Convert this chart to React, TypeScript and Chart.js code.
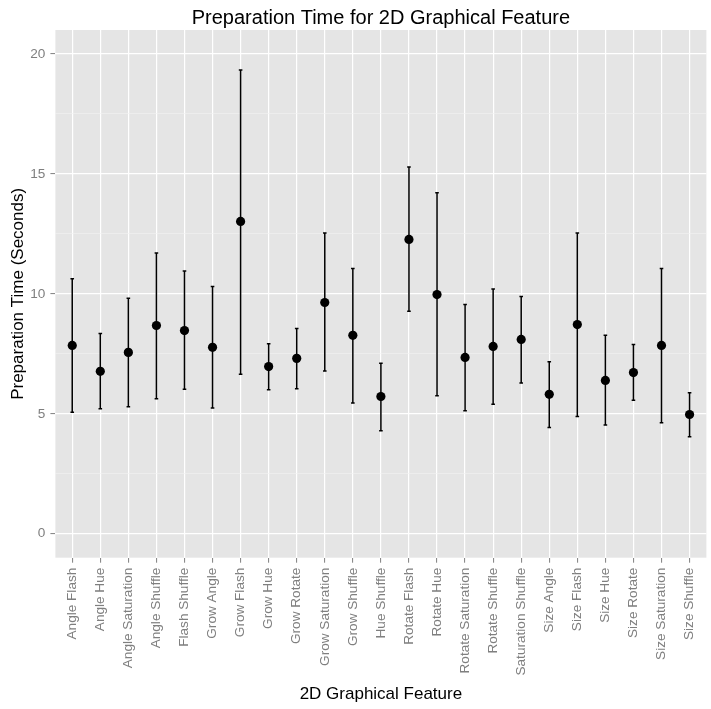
import React, { useEffect, useRef } from "react";
import { Chart, registerables } from "chart.js";

Chart.register(...registerables);

const categories = [
  "Angle Flash", "Angle Hue", "Angle Saturation", "Angle Shuffle", "Flash Shuffle",
  "Grow Angle", "Grow Flash", "Grow Hue", "Grow Rotate", "Grow Saturation",
  "Grow Shuffle", "Hue Shuffle", "Rotate Flash", "Rotate Hue", "Rotate Saturation",
  "Rotate Shuffle", "Saturation Shuffle", "Size Angle", "Size Flash", "Size Hue",
  "Size Rotate", "Size Saturation", "Size Shuffle",
];

const meanTime = [
  7.85, 6.77, 7.56, 8.68, 8.47, 7.77, 13.02, 6.97, 7.31, 9.64, 8.27, 5.72,
  12.27, 9.97, 7.35, 7.81, 8.10, 5.81, 8.72, 6.39, 6.72, 7.85, 4.97,
];

const lowerTime = [
  5.06, 5.21, 5.29, 5.63, 6.02, 5.24, 6.65, 6.00, 6.04, 6.78, 5.45, 4.29,
  9.27, 5.75, 5.13, 5.40, 6.28, 4.43, 4.89, 4.53, 5.56, 4.63, 4.04,
];

const upperTime = [
  10.63, 8.35, 9.82, 11.70, 10.95, 10.31, 19.33, 7.92, 8.56, 12.54, 11.06, 7.11,
  15.29, 14.21, 9.56, 10.20, 9.89, 7.17, 12.54, 8.27, 7.89, 11.06, 5.88,
];

const yTicks = [0, 2.5, 5, 7.5, 10, 12.5, 15, 17.5, 20];

const FONT = "'Liberation Sans', Arial, Helvetica, sans-serif";
const GREY_TEXT = "#7f7f7f";

const panelBackground = {
  id: "panelBackground",
  beforeDraw(chart: any) {
    const { ctx, chartArea } = chart;
    ctx.save();
    ctx.fillStyle = "#e5e5e5";
    ctx.fillRect(chartArea.left, chartArea.top, chartArea.right - chartArea.left, chartArea.bottom - chartArea.top);
    ctx.restore();
  },
};

const errorBars = {
  id: "errorBars",
  beforeDatasetsDraw(chart: any) {
    const { ctx, scales } = chart;
    const xs = scales.x;
    const ys = scales.y;
    ctx.save();
    ctx.strokeStyle = "#000000";
    ctx.lineWidth = 1.5;
    const cap = 1.8;
    categories.forEach((_, i) => {
      const x = xs.getPixelForValue(i);
      const yLo = ys.getPixelForValue(lowerTime[i]);
      const yHi = ys.getPixelForValue(upperTime[i]);
      ctx.beginPath();
      ctx.moveTo(x, yLo);
      ctx.lineTo(x, yHi);
      ctx.moveTo(x - cap, yLo);
      ctx.lineTo(x + cap, yLo);
      ctx.moveTo(x - cap, yHi);
      ctx.lineTo(x + cap, yHi);
      ctx.stroke();
    });
    ctx.restore();
  },
};

export default function App() {
  const canvasRef = useRef<HTMLCanvasElement | null>(null);

  useEffect(() => {
    const canvas = canvasRef.current;
    if (!canvas) return;
    Chart.defaults.font.family = FONT;

    const chart = new Chart(canvas, {
      type: "scatter",
      data: {
        datasets: [
          {
            data: meanTime.map((v, i) => ({ x: i, y: v })),
            pointRadius: 4.6,
            pointBackgroundColor: "#000000",
            pointBorderColor: "#000000",
            pointBorderWidth: 0,
            showLine: false,
          },
        ],
      },
      options: {
        animation: false,
        responsive: false,
        maintainAspectRatio: false,
        layout: { padding: { left: 0, right: 4, top: 0, bottom: 0 } },
        plugins: {
          legend: { display: false },
          tooltip: { enabled: false },
          title: {
            display: true,
            text: "Preparation Time for 2D Graphical Feature",
            fullSize: false,
            color: "#000000",
            font: { size: 20, weight: "normal", family: FONT },
            padding: { top: 6, bottom: 0 },
          },
        },
        scales: {
          x: {
            type: "linear",
            min: -0.6,
            max: categories.length - 1 + 0.6,
            afterBuildTicks: (axis: any) => {
              axis.ticks = categories.map((_, i) => ({ value: i }));
            },
            afterFit: (axis: any) => {
              axis.height = 151.3;
            },
            ticks: {
              autoSkip: false,
              minRotation: 90,
              maxRotation: 90,
              padding: 5,
              color: GREY_TEXT,
              font: { size: 13.6, family: FONT },
              callback: (value: any) => categories[Math.round(Number(value))] ?? "",
            },
            grid: {
              color: "#ffffff",
              lineWidth: 1.2,
              drawTicks: true,
              tickLength: 5,
              tickColor: GREY_TEXT,
              tickWidth: 1,
            },
            border: { display: false },
            title: {
              display: true,
              text: "2D Graphical Feature",
              color: "#000000",
              font: { size: 17, family: FONT },
              padding: { top: 0, bottom: 4 },
            },
          },
          y: {
            type: "linear",
            min: -1,
            max: 21,
            afterBuildTicks: (axis: any) => {
              axis.ticks = yTicks.map((v) => ({ value: v }));
            },
            afterFit: (axis: any) => {
              axis.width = 55.4;
            },
            ticks: {
              padding: 5,
              color: GREY_TEXT,
              font: { size: 13.6, family: FONT },
              callback: (value: any) => (Number(value) % 5 === 0 ? String(value) : ""),
            },
            grid: {
              color: (c: any) => (c.tick && c.tick.value % 5 === 0 ? "#ffffff" : "#f2f2f2"),
              lineWidth: (c: any) => (c.tick && c.tick.value % 5 === 0 ? 1.2 : 0.6),
              drawTicks: true,
              tickLength: 5,
              tickColor: (c: any) => (c.tick && c.tick.value % 5 === 0 ? GREY_TEXT : "rgba(0,0,0,0)"),
              tickWidth: 1,
            },
            border: { display: false },
            title: {
              display: true,
              text: "Preparation Time (Seconds)",
              color: "#000000",
              font: { size: 17, family: FONT },
              padding: { top: 8, bottom: 0 },
            },
          },
        },
      },
      plugins: [panelBackground, errorBars],
    } as any);

    return () => chart.destroy();
  }, []);

  return (
    <div style={{ position: "fixed", left: 0, top: 0, width: 711, height: 709, background: "#ffffff" }}>
      <canvas ref={canvasRef} width={711} height={709} />
    </div>
  );
}
